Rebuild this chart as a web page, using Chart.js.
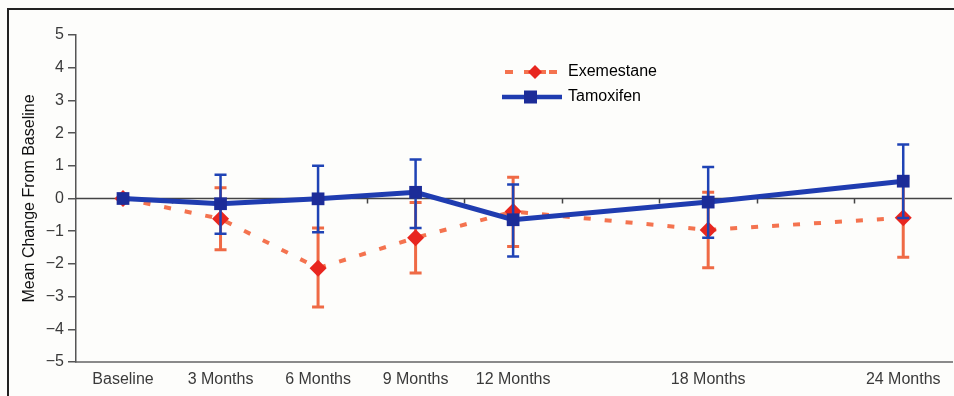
<!DOCTYPE html>
<html><head><meta charset="utf-8">
<script src="https://cdn.jsdelivr.net/npm/chart.js@4"></script>
<style>html,body{margin:0;padding:0;background:#fdfdfb;}#wrap{width:954px;height:396px;position:relative;}</style>
</head><body><div id="wrap"><canvas id="c" width="954" height="396"></canvas></div>
<script>
const months = [0, 3, 6, 9, 12, 18, 24];
const tickLabels = ['Baseline', '3 Months', '6 Months', '9 Months', '12 Months', '18 Months', '24 Months'];
const yTicks = [-5, -4, -3, -2, -1, 0, 1, 2, 3, 4, 5];

const exeMean  = [0, -0.62, -2.13, -1.20, -0.40, -0.96, -0.59];
const exeUpper = [null, 0.33, -0.90, -0.12, 0.65, 0.19, 0.62];
const exeLower = [null, -1.57, -3.32, -2.28, -1.47, -2.12, -1.80];

const tamMean  = [0, -0.16, -0.01, 0.19, -0.65, -0.11, 0.53];
const tamUpper = [null, 0.73, 1.00, 1.19, 0.43, 0.96, 1.65];
const tamLower = [null, -1.08, -1.03, -0.90, -1.77, -1.20, -0.60];

const seriesNames = ['Tamoxifen', 'Exemestane'];

const RED_LINE = '#f4734f', RED_PT = '#e8261f', RED_ERR = '#ef6a45';
const BLUE_LINE = '#1f3cb0', BLUE_PT = '#1c2c98', BLUE_ERR = '#1f43b5';
const FONT = 'Liberation Sans, Arial, Helvetica, sans-serif';

const errInfo = [
  {upper: tamUpper, lower: tamLower, color: BLUE_ERR, width: 2.5},
  {upper: exeUpper, lower: exeLower, color: RED_ERR, width: 3}
];

const framePlugin = {
  id: 'frame',
  beforeDraw(chart) {
    const ctx = chart.ctx;
    ctx.save();
    ctx.fillStyle = '#fdfdfb';
    ctx.fillRect(0, 0, chart.width, chart.height);
    ctx.strokeStyle = '#222';
    ctx.lineWidth = 2;
    ctx.beginPath();
    ctx.moveTo(8, chart.height);
    ctx.lineTo(8, 9);
    ctx.lineTo(chart.width, 9);
    ctx.stroke();
    ctx.restore();
  },
  beforeDatasetsDraw(chart) {
    const ctx = chart.ctx, xs = chart.scales.x, ys = chart.scales.y;
    const y0 = ys.getPixelForValue(0);
    ctx.save();
    ctx.strokeStyle = '#444';
    ctx.lineWidth = 1.5;
    ctx.beginPath();
    ctx.moveTo(chart.chartArea.left, y0);
    ctx.lineTo(chart.chartArea.right, y0);
    for (let m = 1.5; m < xs.max; m += 3) {
      const px = Math.round(xs.getPixelForValue(m)) + 0.5;
      ctx.moveTo(px, y0);
      ctx.lineTo(px, y0 + 5);
    }
    ctx.stroke();
    ctx.restore();
  }
};

const errorBarPlugin = {
  id: 'errorBars',
  beforeDatasetDraw(chart, args) {
    const info = errInfo[args.index];
    const ys = chart.scales.y, ctx = chart.ctx;
    ctx.save();
    ctx.strokeStyle = info.color;
    ctx.lineWidth = info.width;
    ctx.beginPath();
    args.meta.data.forEach((pt, i) => {
      if (info.upper[i] == null) return;
      const x = pt.x;
      const yh = ys.getPixelForValue(info.upper[i]);
      const yl = ys.getPixelForValue(info.lower[i]);
      ctx.moveTo(x, yh); ctx.lineTo(x, yl);
      ctx.moveTo(x - 6, yh); ctx.lineTo(x + 6, yh);
      ctx.moveTo(x - 6, yl); ctx.lineTo(x + 6, yl);
    });
    ctx.stroke();
    ctx.restore();
  }
};

const legendPlugin = {
  id: 'customLegend',
  afterDraw(chart) {
    const ctx = chart.ctx;
    ctx.save();
    let y = 72;
    ctx.strokeStyle = RED_LINE; ctx.lineWidth = 4; ctx.lineCap = 'butt';
    ctx.beginPath();
    ctx.moveTo(505, y); ctx.lineTo(513, y);
    ctx.moveTo(549, y); ctx.lineTo(557, y);
    ctx.moveTo(524, y); ctx.lineTo(546, y);
    ctx.stroke();
    ctx.fillStyle = RED_PT;
    ctx.beginPath();
    ctx.moveTo(535, y - 7); ctx.lineTo(542, y); ctx.lineTo(535, y + 7); ctx.lineTo(528, y); ctx.closePath();
    ctx.fill();
    y = 97;
    ctx.strokeStyle = BLUE_LINE; ctx.lineWidth = 4.5;
    ctx.beginPath(); ctx.moveTo(502, y); ctx.lineTo(562, y); ctx.stroke();
    ctx.fillStyle = BLUE_PT;
    ctx.fillRect(524, y - 6.5, 13, 13);
    ctx.fillStyle = '#000';
    ctx.font = '16px ' + FONT;
    ctx.textBaseline = 'middle';
    ctx.fillText(seriesNames[1], 568, 72);
    ctx.fillText(seriesNames[0], 568, 97);
    ctx.restore();
  }
};

new Chart(document.getElementById('c'), {
  type: 'line',
  data: {
    datasets: [
      {
        label: seriesNames[0],
        data: months.map((m, i) => ({x: m, y: tamMean[i]})),
        borderColor: BLUE_LINE,
        borderWidth: 5,
        pointStyle: 'rect',
        pointRadius: 9,
        pointBackgroundColor: BLUE_PT,
        pointBorderColor: BLUE_PT,
        pointBorderWidth: 0,
        tension: 0,
        order: 0
      },
      {
        label: seriesNames[1],
        data: months.map((m, i) => ({x: m, y: exeMean[i]})),
        borderColor: RED_LINE,
        borderWidth: 4,
        borderDash: [7, 14],
        pointStyle: 'rectRot',
        pointRadius: 8.5,
        pointBackgroundColor: RED_PT,
        pointBorderColor: RED_PT,
        pointBorderWidth: 0,
        tension: 0,
        order: 1
      }
    ]
  },
  options: {
    responsive: false,
    animation: false,
    devicePixelRatio: 1,
    layout: {autoPadding: false, padding: {left: 0, right: 2, top: 35, bottom: 0}},
    plugins: {legend: {display: false}, tooltip: {enabled: false}},
    scales: {
      x: {
        type: 'linear',
        min: -1.446,
        max: 25.5,
        afterBuildTicks(scale) { scale.ticks = months.map(v => ({value: v})); },
        afterFit(scale) { scale.height = 34; scale.paddingLeft = 0; scale.paddingRight = 0; },
        ticks: {
          autoSkip: false,
          maxRotation: 0,
          padding: 8,
          color: '#3a3a3a',
          font: {family: FONT, size: 16},
          callback: (v) => tickLabels[months.indexOf(v)]
        },
        grid: {display: true, drawOnChartArea: false, drawTicks: false},
        border: {display: true, color: '#8a8a8a', width: 2}
      },
      y: {
        type: 'linear',
        min: -5,
        max: 5,
        afterBuildTicks(scale) { scale.ticks = yTicks.map(v => ({value: v})); },
        afterFit(scale) { scale.width = 76; },
        ticks: {
          padding: 4,
          color: '#3a3a3a',
          font: {family: FONT, size: 16},
          callback: (v) => (v < 0 ? '\u2212' + Math.abs(v) : String(v))
        },
        grid: {display: true, drawOnChartArea: false, drawTicks: true, tickLength: 8, color: '#555', lineWidth: 1.5},
        border: {display: true, color: '#555', width: 1.5},
        title: {
          display: true,
          text: 'Mean Change From Baseline',
          color: '#111',
          font: {family: FONT, size: 16},
          padding: {top: 20, bottom: 0}
        }
      }
    }
  },
  plugins: [framePlugin, errorBarPlugin, legendPlugin]
});
</script>
</body></html>
